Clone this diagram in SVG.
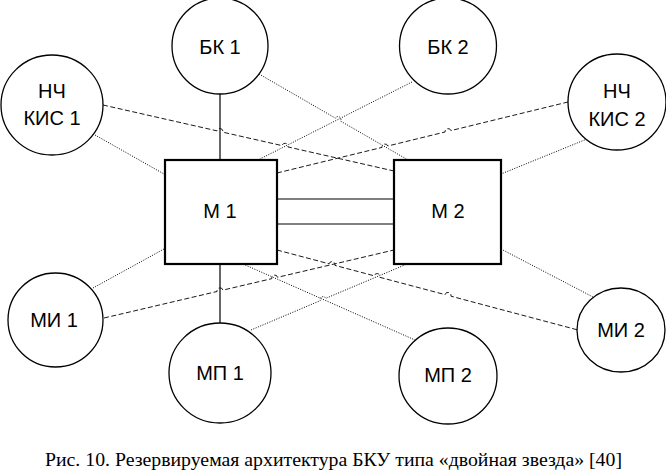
<svg xmlns="http://www.w3.org/2000/svg" width="666" height="471" viewBox="0 0 666 471">
<style>
.node{fill:#fff;stroke:#000;stroke-width:1.3}
.box{fill:#fff;stroke:#000;stroke-width:2.2}
.lbl{font-family:"Liberation Sans",Arial,sans-serif;font-size:20px;fill:#000;text-anchor:middle}
.solid{fill:none;stroke:#000;stroke-width:1.2}
.dash{fill:none;stroke:#000;stroke-width:0.9;stroke-dasharray:5,2.5}
.dot{fill:none;stroke:#000;stroke-width:1;stroke-dasharray:1,1.5}
.cap{font-family:"Liberation Serif","Times New Roman",serif;font-size:19.5px;fill:#000;text-anchor:middle}
</style>
<rect width="666" height="471" fill="#fff"/>
<g id="connectors">
<line class="solid" x1="220" y1="94" x2="220" y2="160"/>
<line class="solid" x1="220" y1="264" x2="220" y2="323"/>
<line class="solid" x1="277" y1="199" x2="394" y2="199"/>
<line class="solid" x1="277" y1="224" x2="394" y2="224"/>
<path class="dot" d="M259 74 L335.4 118.1 A3 3 0 0 1 340.6 121.1 L408 160"/>
<line class="dot" x1="412" y1="82" x2="258" y2="160"/>
<line class="dot" x1="95" y1="135" x2="164" y2="174"/>
<path class="dash" d="M103 105 L217.07 130.88 A3 3 0 0 1 222.93 132.2 L282.07 145.62 A3 3 0 0 1 287.93 146.94 L394 171"/>
<path class="dash" d="M277 173 L382 147.4 A3 3 0 0 1 387.8 146 L445.1 132 A3 3 0 0 1 450.9 130.6 L568 102"/>
<line class="dot" x1="587" y1="139" x2="501" y2="174"/>
<line class="dot" x1="93" y1="288" x2="164" y2="249"/>
<path class="dash" d="M104 318 L217.08 291.48 A3 3 0 0 1 222.92 290.12 L271.78 278.65 A3 3 0 0 1 277.62 277.29 L394 250"/>
<path class="dash" d="M277 250 L329.1 263.83 A3 3 0 0 1 334.9 265.37 L374.1 275.81 A3 3 0 0 1 379.9 277.35 L445.1 294.63 A3 3 0 0 1 450.9 296.17 L578 330"/>
<line class="dot" x1="501" y1="249" x2="593" y2="297"/>
<path class="dot" d="M251 330 L320.24 300.67 A3 3 0 0 1 325.76 298.33 L407 264"/>
<line class="dot" x1="243" y1="264" x2="415" y2="340"/>
</g>
<g id="BK1"><ellipse class="node" cx="220" cy="46" rx="48" ry="48"/><text class="lbl" x="220" y="54">БК 1</text></g>
<g id="BK2"><ellipse class="node" cx="448" cy="46" rx="48.5" ry="48"/><text class="lbl" x="448" y="54">БК 2</text></g>
<g id="NCH1"><ellipse class="node" cx="52" cy="105" rx="51" ry="50"/><text class="lbl" x="52" y="98">НЧ</text><text class="lbl" x="52" y="125">КИС 1</text></g>
<g id="NCH2"><ellipse class="node" cx="617" cy="102" rx="49" ry="48"/><text class="lbl" x="617" y="98">НЧ</text><text class="lbl" x="617" y="126">КИС 2</text></g>
<g id="M1"><rect class="box" x="165" y="160" width="112" height="104"/><text class="lbl" x="220" y="218">М 1</text></g>
<g id="M2"><rect class="box" x="394" y="160" width="107" height="104"/><text class="lbl" x="448" y="218">М 2</text></g>
<g id="MI1"><ellipse class="node" cx="55.5" cy="320" rx="47.5" ry="47"/><text class="lbl" x="54" y="327">МИ 1</text></g>
<g id="MI2"><ellipse class="node" cx="621" cy="330" rx="44" ry="42"/><text class="lbl" x="621" y="337">МИ 2</text></g>
<g id="MP1"><ellipse class="node" cx="220" cy="373" rx="51" ry="50"/><text class="lbl" x="220" y="380">МП 1</text></g>
<g id="MP2"><ellipse class="node" cx="448" cy="376" rx="49" ry="48"/><text class="lbl" x="448" y="382">МП 2</text></g>
<text class="cap" x="333.5" y="466" textLength="577" lengthAdjust="spacingAndGlyphs">Рис. 10. Резервируемая архитектура БКУ типа «двойная звезда» [40]</text>
</svg>
